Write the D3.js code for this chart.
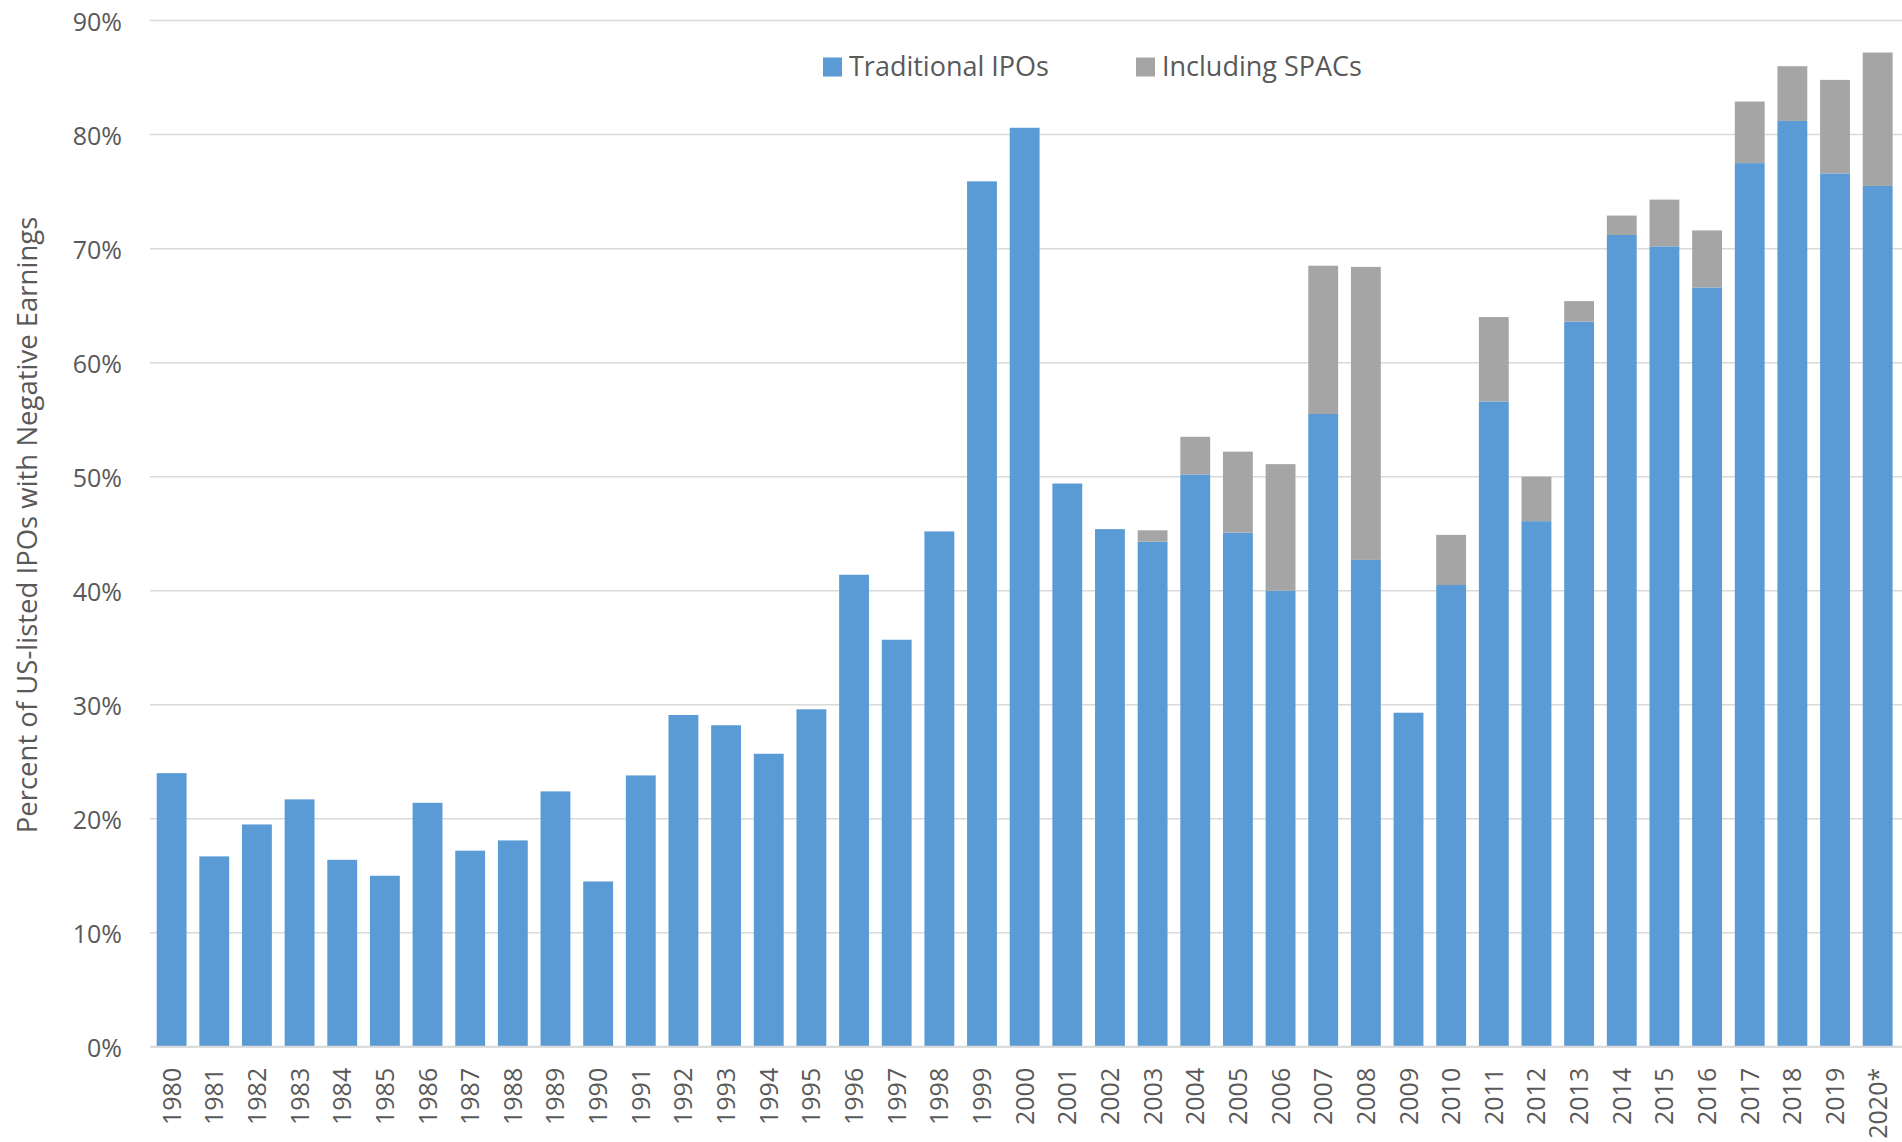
<!DOCTYPE html>
<html>
<head>
<meta charset="utf-8">
<script src="https://cdn.jsdelivr.net/npm/d3@7"></script>
<style>
  html, body { margin: 0; padding: 0; background: #fff; }
  svg { display: block; font-family: "Open Sans", sans-serif; }
</style>
</head>
<body>
<svg id="chart" width="1902" height="1142"></svg>
<script>
// IPO years (2020 is year-to-date)
const years = ["1980","1981","1982","1983","1984","1985","1986","1987","1988","1989",
  "1990","1991","1992","1993","1994","1995","1996","1997","1998","1999",
  "2000","2001","2002","2003","2004","2005","2006","2007","2008","2009",
  "2010","2011","2012","2013","2014","2015","2016","2017","2018","2019","2020*"];

// Share of traditional IPOs with negative earnings (%)
const traditional = [24.0, 16.7, 19.5, 21.7, 16.4, 15.0, 21.4, 17.2, 18.1, 22.4,
  14.5, 23.8, 29.1, 28.2, 25.7, 29.6, 41.4, 35.7, 45.2, 75.9,
  80.6, 49.4, 45.4, 44.3, 50.2, 45.1, 40.0, 55.5, 42.7, 29.3,
  40.5, 56.6, 46.1, 63.6, 71.2, 70.2, 66.6, 77.5, 81.2, 76.6, 75.5];

// Share when SPACs are counted too (%); null where there is no difference
const includingSpacs = [null, null, null, null, null, null, null, null, null, null,
  null, null, null, null, null, null, null, null, null, null,
  null, null, null, 45.3, 53.5, 52.2, 51.1, 68.5, 68.4, null,
  44.9, 64.0, 50.0, 65.4, 72.9, 74.3, 71.6, 82.9, 86.0, 84.8, 87.2];

const yTicks = [0, 10, 20, 30, 40, 50, 60, 70, 80, 90];
const seriesNames = ["Traditional IPOs", "Including SPACs"];
const colors = ["#5B9BD5", "#A5A5A5"];

const svg = d3.select("#chart");
const textColor = "#595959";

const x = d3.scaleBand()
  .domain(years)
  .range([150.3, 1899])
  .paddingInner(0.3)
  .paddingOuter(0.15);

const y = d3.scaleLinear()
  .domain([0, 90])
  .range([1046.8, 20.6]);

// Horizontal gridlines
svg.append("g")
  .selectAll("line")
  .data(yTicks)
  .join("line")
  .attr("x1", 150)
  .attr("x2", 1902)
  .attr("y1", d => y(d))
  .attr("y2", d => y(d))
  .attr("stroke", "#D9D9D9")
  .attr("stroke-width", 1.5);

// Y-axis tick labels
const yAxis = d3.axisLeft(y)
  .tickValues(yTicks)
  .tickFormat(d => d + "%")
  .tickSize(0)
  .tickPadding(0);

svg.append("g")
  .attr("transform", "translate(122,0)")
  .call(yAxis)
  .call(g => g.select(".domain").remove())
  .call(g => g.selectAll("text")
    .attr("fill", textColor)
    .attr("font-size", 25)
    .attr("font-family", "'Open Sans', sans-serif")
    .attr("dy", "0.38em"));

// Traditional IPO bars
const rows = years.map((yr, i) => ({ year: yr, trad: traditional[i], total: includingSpacs[i] }));

svg.append("g")
  .selectAll("rect")
  .data(rows)
  .join("rect")
  .attr("x", d => x(d.year))
  .attr("width", x.bandwidth())
  .attr("y", d => y(d.trad))
  .attr("height", d => y(0) - y(d.trad))
  .attr("fill", colors[0]);

// Additional share from SPACs, stacked on top
svg.append("g")
  .selectAll("rect")
  .data(rows.filter(d => d.total != null))
  .join("rect")
  .attr("x", d => x(d.year))
  .attr("width", x.bandwidth())
  .attr("y", d => y(d.total))
  .attr("height", d => y(d.trad) - y(d.total))
  .attr("fill", colors[1]);

// Baseline
svg.append("line")
  .attr("x1", 150).attr("x2", 1902)
  .attr("y1", y(0)).attr("y2", y(0))
  .attr("stroke", "#D9D9D9")
  .attr("stroke-width", 2);

// X-axis labels, rotated
const xAxis = d3.axisBottom(x).tickSize(0).tickPadding(0);
svg.append("g")
  .attr("transform", `translate(0,${y(0)})`)
  .call(xAxis)
  .call(g => g.select(".domain").remove())
  .call(g => g.selectAll("text")
    .attr("fill", textColor)
    .attr("font-size", 25)
    .attr("font-family", "'Open Sans', sans-serif")
    .attr("text-anchor", "end")
    .attr("transform", "rotate(-90)")
    .attr("x", -21)
    .attr("y", 0)
    .attr("dy", "0.36em"));

// Y-axis title
svg.append("text")
  .attr("transform", "translate(37,525) rotate(-90)")
  .attr("text-anchor", "middle")
  .attr("fill", textColor)
  .attr("font-size", 27.5)
  .text("Percent of US-listed IPOs with Negative Earnings");

// Legend
const legendX = [823, 1136];
const legend = svg.append("g");
seriesNames.forEach((name, i) => {
  legend.append("rect")
    .attr("x", legendX[i])
    .attr("y", 57.5)
    .attr("width", 19)
    .attr("height", 19)
    .attr("fill", colors[i]);
  legend.append("text")
    .attr("x", legendX[i] + 26)
    .attr("y", 76)
    .attr("fill", textColor)
    .attr("font-size", 27)
    .text(name);
});
</script>
</body>
</html>
